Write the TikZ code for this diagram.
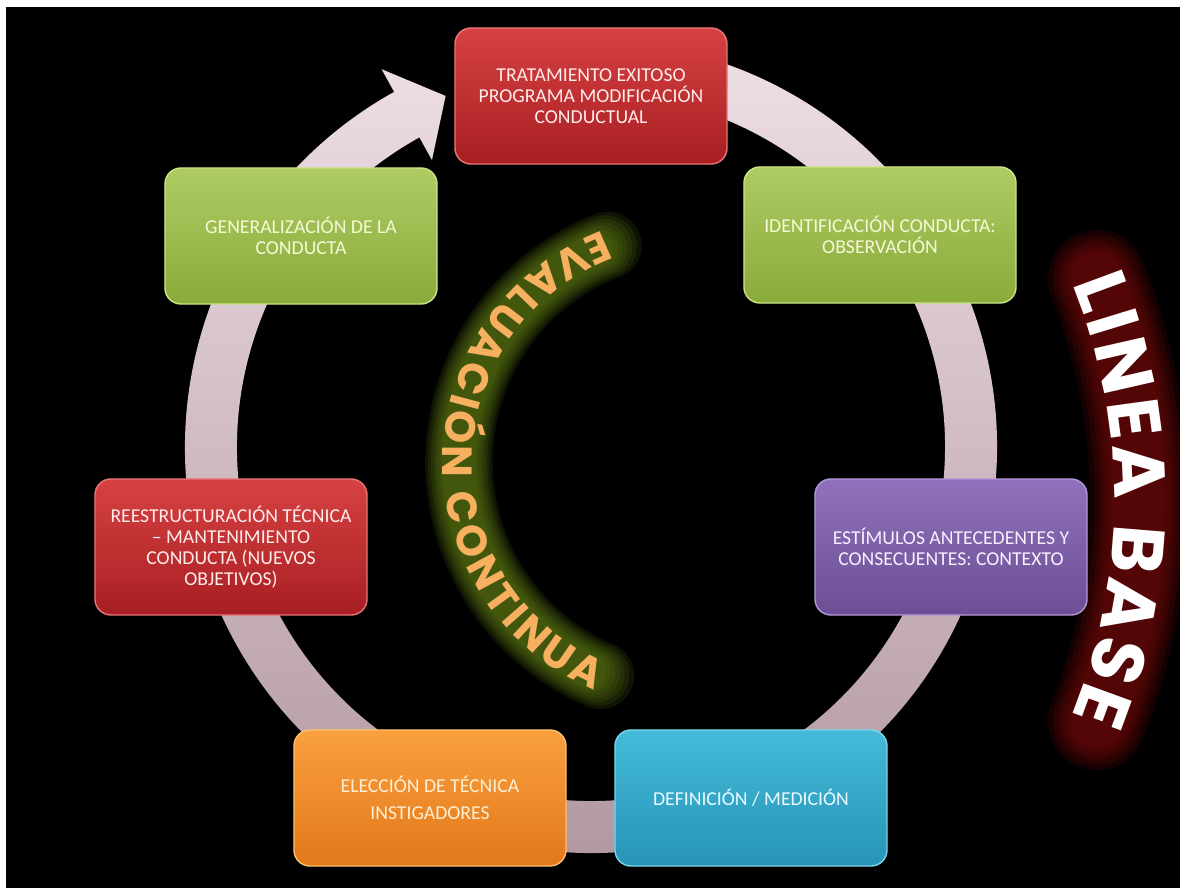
\documentclass[tikz,border=0pt]{standalone}
\usepackage{fontspec}
\setmainfont{Carlito}
\newfontfamily\geofont{Poppins}
\usetikzlibrary{decorations.text}
\definecolor{ringtop}{RGB}{238,222,229}
\definecolor{ringbot}{RGB}{176,150,158}
\definecolor{redtop}{RGB}{214,66,66}
\definecolor{redbot}{RGB}{168,30,34}
\definecolor{redline}{RGB}{232,118,118}
\definecolor{grntop}{RGB}{174,204,98}
\definecolor{grnbot}{RGB}{138,170,60}
\definecolor{grnline}{RGB}{204,228,136}
\definecolor{purtop}{RGB}{144,114,188}
\definecolor{purbot}{RGB}{108,78,148}
\definecolor{purline}{RGB}{178,152,218}
\definecolor{blutop}{RGB}{68,186,216}
\definecolor{blubot}{RGB}{38,148,184}
\definecolor{bluline}{RGB}{122,212,236}
\definecolor{orgtop}{RGB}{250,160,62}
\definecolor{orgbot}{RGB}{226,120,26}
\definecolor{orgline}{RGB}{252,192,112}
\definecolor{redtxt}{RGB}{255,236,236}
\definecolor{grntxt}{RGB}{246,248,214}
\definecolor{purtxt}{RGB}{246,240,255}
\definecolor{blutxt}{RGB}{236,250,255}
\definecolor{orgtxt}{RGB}{255,240,212}
\definecolor{evalglow}{RGB}{104,136,22}
\definecolor{evaltxt}{RGB}{246,176,96}
\definecolor{baseglow}{RGB}{128,10,10}
\tikzset{
  box/.style={rounded corners=0.4cm, minimum width=6.8cm, minimum height=3.4cm,
    align=center, font=\fontsize{14}{15}\selectfont, inner sep=2pt, line width=1pt},
  redbox/.style={box, top color=redtop, bottom color=redbot, draw=redline, text=redtxt},
  grnbox/.style={box, top color=grntop, bottom color=grnbot, draw=grnline, text=grntxt},
  purbox/.style={box, top color=purtop, bottom color=purbot, draw=purline, text=purtxt},
  blubox/.style={box, top color=blutop, bottom color=blubot, draw=bluline, text=blutxt},
  orgbox/.style={box, top color=orgtop, bottom color=orgbot, draw=orgline, text=orgtxt},
  eglow/.style={draw=evalglow, line cap=round, opacity=0.14},
  bglow/.style={draw=baseglow, line cap=round, opacity=0.17},
}
\begin{document}
\begin{tikzpicture}[x=0.025cm,y=0.025cm]
\useasboundingbox (0,0) rectangle (1180,888);
\fill[white] (0,0) rectangle (1180,888);
\fill[black] (6,0) rectangle (1180,881);

% circular arrow
\begin{scope}[shift={(591,441)}]
\shade[top color=ringtop, bottom color=ringbot]
  (80:406) arc[start angle=80, end angle=-241, radius=406]
  -- (119:432) -- (112.5:380) -- (119:328) -- (-241:354)
  arc[start angle=-241, end angle=80, radius=354] -- cycle;
\end{scope}

% EVALUACION CONTINUA
\begin{scope}[shift={(691,426)}]
\foreach \w/\a in {48/111, 44/111.5, 40/112, 36/112.5, 32/113, 28/113.5, 24/114}{
  \draw[eglow, line width=\w pt] (\a:232) arc[start angle=\a, end angle=358-\a, radius=232];
}
\path[decorate, decoration={text along path, text align=fit to path,
  text={|\geofont\bfseries\fontsize{30}{30}\selectfont\color{evaltxt}|EVALUACIÓN CONTINUA}}]
  (111:248) arc[start angle=111, end angle=247, radius=248];
\end{scope}

% LINEA BASE
\begin{scope}[shift={(535,388)}]
\foreach \w/\a in {70/21.5, 63/21.5, 56/21.5, 50/21.5, 44/21.5, 38/21.5}{
  \draw[bglow, line width=\w pt] (\a:604) arc[start angle=\a, end angle=-\a, radius=604];
}
\path[decorate, decoration={text along path, text align=fit to path,
  text={|\geofont\bfseries\fontsize{52}{52}\selectfont\color{white}|LINEA BASE}}]
  (22:579) arc[start angle=22, end angle=-22, radius=579];
\end{scope}

% boxes
\node[redbox] (trat) at (591,792) {TRATAMIENTO EXITOSO\\PROGRAMA MODIFICACIÓN\\CONDUCTUAL};
\node[grnbox] (iden) at (880,653) {IDENTIFICACIÓN CONDUCTA:\\OBSERVACIÓN};
\node[purbox] (esti) at (951,341) {ESTÍMULOS ANTECEDENTES Y\\CONSECUENTES: CONTEXTO};
\node[blubox] (defi) at (751,90) {DEFINICIÓN / MEDICIÓN};
\node[orgbox] (elec) at (430,90) {ELECCIÓN DE TÉCNICA\\[4pt]INSTIGADORES};
\node[redbox] (rees) at (231,341) {REESTRUCTURACIÓN TÉCNICA\\– MANTENIMIENTO\\CONDUCTA (NUEVOS\\OBJETIVOS)};
\node[grnbox] (gene) at (301,652) {GENERALIZACIÓN DE LA\\CONDUCTA};
\end{tikzpicture}
\end{document}
